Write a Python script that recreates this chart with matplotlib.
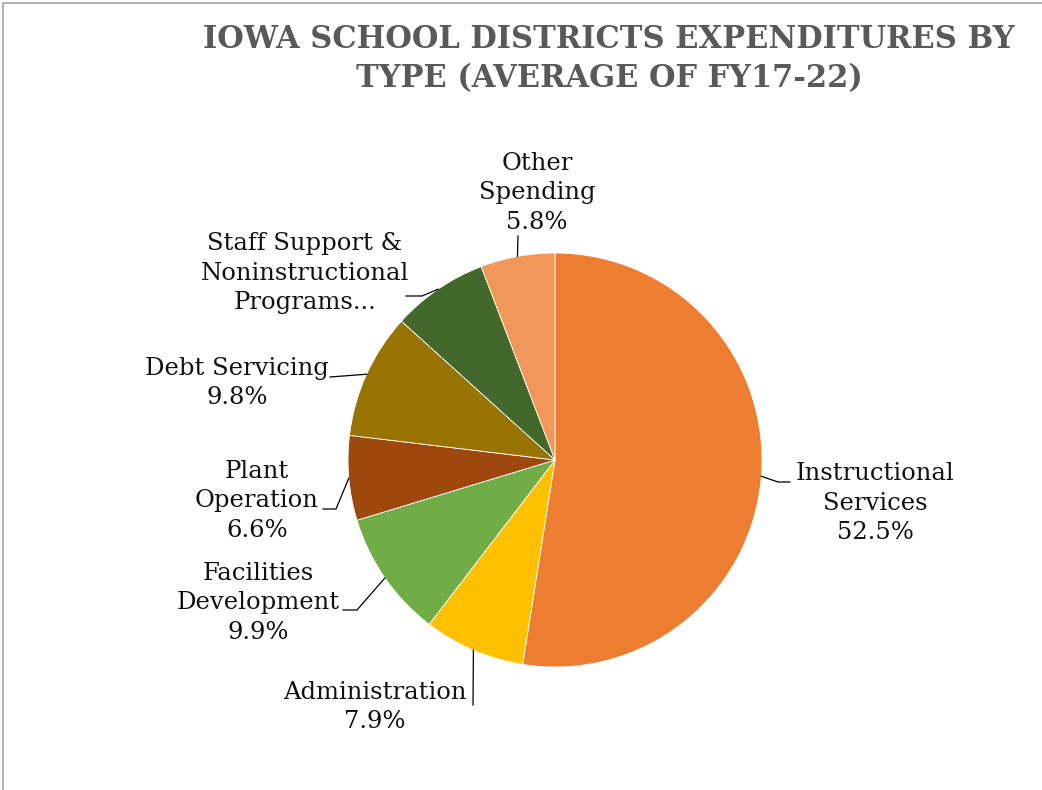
import numpy as np
import matplotlib.pyplot as plt
from matplotlib.patches import Rectangle

labels = ['Instructional\nServices', 'Administration', 'Facilities\nDevelopment',
          'Plant\nOperation', 'Debt Servicing', 'Staff Support &\nNoninstructional\nPrograms...',
          'Other\nSpending']
shares = [52.5, 7.9, 9.9, 6.6, 9.8, 7.5, 5.8]
show_pct = [True, True, True, True, True, False, True]  # Staff label is cut off in the original
colors = ['#ED7D31', '#FFC000', '#70AD47', '#9E480E', '#997300', '#43682B', '#F1975A']

# label layout in pixel space: text centre, then leader points (after the wedge edge)
label_pos = [(875, 503), (375, 707), (258, 603), (257, 501), (237, 383), (305, 273), (537, 193)]
leader_pts = [[(778, 482), (790, 482)],
              [(473, 705)],
              [(357, 610), (343, 610)],
              [(336, 509), (323, 509)],
              [(330, 377)],
              [(422, 296), (406, 296)],
              [(518, 236)]]

W, H = 1042, 790
cx, cy, R = 555, 460, 207


def px(x, y):
    return (x - cx) / R, (cy - y) / R


plt.rcParams['font.family'] = ['DejaVu Serif']
fig = plt.figure(figsize=(W / 100, H / 100), dpi=100)
ax = fig.add_axes([0, 0, 1, 1])
wedges, _ = ax.pie(shares, colors=colors, startangle=90, counterclock=False,
                   radius=1, wedgeprops=dict(edgecolor='white', linewidth=0.6))
ax.set_aspect('auto')
ax.set_xlim(-cx / R, (W - cx) / R)
ax.set_ylim((cy - H) / R, cy / R)
ax.axis('off')

for w, lab, val, show, pos, pts in zip(wedges, labels, shares, show_pct, label_pos, leader_pts):
    ang = np.deg2rad((w.theta1 + w.theta2) / 2)
    edge = (np.cos(ang), np.sin(ang))
    xs = [edge[0]] + [px(*p)[0] for p in pts]
    ys = [edge[1]] + [px(*p)[1] for p in pts]
    ax.plot(xs, ys, color='black', lw=0.9)
    tx, ty = px(*pos)
    txt = f'{lab}\n{val:.1f}%' if show else lab
    ax.text(tx, ty, txt, ha='center', va='center', fontsize=17.5,
            linespacing=1.34, color='#111111')

fig.text(609 / W, 1 - 59 / H, 'IOWA SCHOOL DISTRICTS EXPENDITURES BY\nTYPE (AVERAGE OF FY17-22)',
         ha='center', va='center', fontsize=22, fontweight='bold', color='#595959',
         linespacing=1.3)

# chart frame
fig.add_artist(Rectangle((3 / W, -0.1), 1.2, 1 - 3 / H + 0.1, transform=fig.transFigure,
                         fill=False, edgecolor='#A6A6A6', lw=1.2))

fig.savefig('out.png', dpi=100)
